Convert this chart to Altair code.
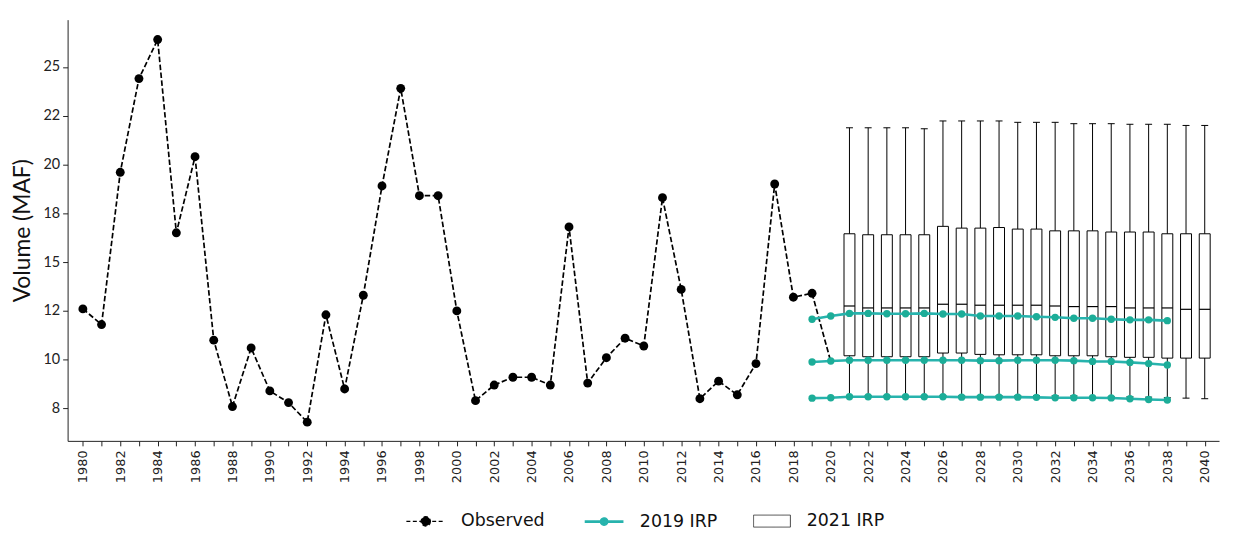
import altair as alt
import pandas as pd

# ---------------- data ----------------
OBS_YEARS = list(range(1980, 2021))
OBS_VALUES = [12.6, 11.8, 19.6, 24.4, 26.4, 16.5, 20.4, 11.0, 7.6, 10.6,
              8.4, 7.8, 6.8, 12.3, 8.5, 13.3, 18.9, 23.9, 18.4, 18.4,
              12.5, 7.9, 8.7, 9.1, 9.1, 8.7, 16.8, 8.8, 10.1, 11.1,
              10.7, 18.3, 13.6, 8.0, 8.9, 8.2, 9.8, 19.0, 13.2, 13.4,
              9.9]
OBS_LAST_MARKER_YEAR = 2019

IRP_YEARS = list(range(2019, 2039))
IRP_HIGH = [12.07, 12.24, 12.37, 12.37, 12.35, 12.35, 12.37, 12.34, 12.34, 12.24,
            12.24, 12.24, 12.20, 12.17, 12.12, 12.12, 12.07, 12.04, 12.04, 12.00]
IRP_MID = [9.88, 9.93, 9.97, 9.97, 9.97, 9.97, 9.97, 9.97, 9.97, 9.95,
           9.95, 9.97, 9.97, 9.97, 9.95, 9.91, 9.91, 9.86, 9.80, 9.73]
IRP_LOW = [8.03, 8.05, 8.10, 8.10, 8.10, 8.10, 8.10, 8.10, 8.08, 8.08,
           8.08, 8.08, 8.07, 8.05, 8.05, 8.05, 8.04, 8.00, 7.96, 7.93]

BOX_YEARS = list(range(2021, 2041))
BOX_WHISKER_HI = [21.88, 21.88, 21.88, 21.88, 21.83, 22.23, 22.23, 22.23, 22.23, 22.16,
                  22.16, 22.16, 22.09, 22.09, 22.09, 22.06, 22.06, 22.06, 22.00, 22.00]
BOX_Q3 = [16.45, 16.40, 16.40, 16.40, 16.40, 16.83, 16.74, 16.74, 16.77, 16.69,
          16.69, 16.60, 16.60, 16.60, 16.54, 16.54, 16.54, 16.45, 16.45, 16.45]
BOX_MEDIAN = [12.75, 12.65, 12.65, 12.65, 12.65, 12.84, 12.84, 12.79, 12.79, 12.79,
              12.79, 12.75, 12.72, 12.72, 12.72, 12.65, 12.65, 12.65, 12.58, 12.58]
BOX_Q1 = [10.20, 10.15, 10.15, 10.15, 10.15, 10.34, 10.34, 10.27, 10.25, 10.25,
          10.25, 10.20, 10.20, 10.20, 10.15, 10.12, 10.12, 10.08, 10.08, 10.08]
BOX_WHISKER_LO = [8.15, 8.15, 8.15, 8.15, 8.15, 8.15, 8.15, 8.15, 8.15, 8.15,
                  8.15, 8.15, 8.15, 8.10, 8.10, 8.10, 8.08, 8.05, 8.03, 8.00]

SERIES = ["Observed", "2019 IRP", "2021 IRP"]
Y_TICKS = [7.5, 10, 12.5, 15, 17.5, 20, 22.5, 25]
Y_TICK_LABELS = ["8", "10", "12", "15", "18", "20", "22", "25"]
X_TICKS = list(range(1980, 2041))

TEAL_LINE = "#27b3ad"
TEAL_PT = "#1cad98"

# ---------------- frames ----------------
obs_df = pd.DataFrame({"year": OBS_YEARS, "value": OBS_VALUES})
irp_df = pd.concat([
    pd.DataFrame({"year": IRP_YEARS, "value": vals, "trace": name})
    for name, vals in [("high", IRP_HIGH), ("mid", IRP_MID), ("low", IRP_LOW)]
], ignore_index=True)
box_df = pd.DataFrame({
    "year": BOX_YEARS, "whi": BOX_WHISKER_HI, "q3": BOX_Q3,
    "med": BOX_MEDIAN, "q1": BOX_Q1, "wlo": BOX_WHISKER_LO,
})
legend_df = pd.DataFrame({"series": SERIES})

x_scale = alt.Scale(domain=[1979.45, 2040.5], nice=False, zero=False)
y_scale = alt.Scale(domain=[5.84, 27.42], nice=False, zero=False)

y_label_expr = " : ".join(
    f"datum.value == {t} ? '{l}'" for t, l in zip(Y_TICKS, Y_TICK_LABELS)
) + " : ''"

x_axis = alt.Axis(
    values=X_TICKS, title=None, grid=False,
    labelExpr="datum.value % 2 == 0 ? toString(datum.value) : ''",
    labelAngle=270, labelAlign="right", labelBaseline="middle",
    labelFont="DejaVu Sans", labelFontSize=13, labelPadding=4,
    labelOverlap=False, labelFlush=False, tickSize=5,
)
y_axis = alt.Axis(
    values=Y_TICKS, title="Volume (MAF)", labelExpr=y_label_expr, grid=False,
    labelFont="Lato", labelFontSize=14.5, labelPadding=3, tickSize=5,
    titleFont="Lato", titleFontSize=23, titleFontWeight="normal",
    titlePadding=9, labelOverlap=False,
)

X = alt.X("year:Q", scale=x_scale, axis=x_axis)
Y_ENC = lambda f: alt.Y(f"{f}:Q", scale=y_scale, axis=y_axis)

base_box = alt.Chart(box_df)
whisk = base_box.mark_rule(color="black", strokeWidth=1).encode(
    x=X, y=Y_ENC("wlo"), y2="whi:Q")
cap_hi = base_box.mark_tick(orient="horizontal", size=7, thickness=1, color="black",
                            opacity=1).encode(x=X, y=Y_ENC("whi"))
cap_lo = base_box.mark_tick(orient="horizontal", size=7, thickness=1, color="black",
                            opacity=1).encode(x=X, y=Y_ENC("wlo"))
boxes = base_box.mark_bar(fill="white", stroke="black", strokeWidth=1, size=11,
                          opacity=1).encode(x=X, y=Y_ENC("q1"), y2="q3:Q")
medians = base_box.mark_tick(orient="horizontal", size=11, thickness=1.2, color="black",
                             opacity=1).encode(x=X, y=Y_ENC("med"))

obs_line = alt.Chart(obs_df).mark_line(color="black", strokeDash=[5.5, 2.5],
                                       strokeWidth=1.7).encode(x=X, y=Y_ENC("value"))
obs_pts = alt.Chart(obs_df).mark_circle(color="black", size=80, opacity=1).encode(
    x=X, y=Y_ENC("value")).transform_filter(f"datum.year <= {OBS_LAST_MARKER_YEAR}")

irp_line = alt.Chart(irp_df).mark_line(color=TEAL_LINE, strokeWidth=2.6).encode(
    x=X, y=Y_ENC("value"), detail="trace:N")
irp_pts = alt.Chart(irp_df).mark_circle(color=TEAL_PT, size=55, opacity=1).encode(
    x=X, y=Y_ENC("value"), detail="trace:N")

PATH_OBS = "M-1,0L1,0M0.24,0A0.24,0.24,0,1,1,-0.24,0A0.24,0.24,0,1,1,0.24,0Z"
PATH_IRP = "M-1,0L1,0M0.16,0A0.16,0.16,0,1,1,-0.16,0A0.16,0.16,0,1,1,0.16,0Z"
PATH_BOX = "M-0.95,-0.31L0.95,-0.31L0.95,0.31L-0.95,0.31Z"

leg = alt.Legend(title=None, orient="none", legendX=340, legendY=484,
                 direction="horizontal", symbolSize=1521,
                 labelFont="DejaVu Sans", labelFontSize=17.5, labelColor="#111",
                 labelOffset=15, columnPadding=34, padding=0)

legend_layer = alt.Chart(legend_df).mark_point(filled=True, opacity=1).encode(
    shape=alt.Shape("series:N", scale=alt.Scale(domain=SERIES,
                    range=[PATH_OBS, PATH_IRP, PATH_BOX]), legend=leg),
    fill=alt.Fill("series:N", scale=alt.Scale(domain=SERIES,
                  range=["black", TEAL_PT, "white"]), legend=leg),
    stroke=alt.Stroke("series:N", scale=alt.Scale(domain=SERIES,
                      range=["black", TEAL_LINE, "#333"]), legend=leg),
    strokeDash=alt.StrokeDash("series:N", scale=alt.Scale(domain=SERIES,
                              range=[[4, 2.5], [1, 0], [1, 0]]), legend=leg),
    strokeWidth=alt.StrokeWidth("series:N", scale=alt.Scale(type="ordinal", domain=SERIES,
                                range=[1.3, 2.6, 0.9]), legend=leg),
).transform_filter("false")

chart = alt.layer(
    whisk, cap_hi, cap_lo, boxes, medians, obs_line, obs_pts, irp_line, irp_pts,
    legend_layer,
).properties(
    width=1159, height=424,
    autosize=alt.AutoSizeParams(type="none"),
    padding={"left": 60, "top": 10, "right": 6, "bottom": 90},
    background="white",
).configure_view(stroke=None).configure_axis(
    grid=False, domainColor="#222", tickColor="#222", labelColor="#222",
    titleColor="#111",
)

chart.save("out.html", embed_options={"renderer": "svg", "actions": False})
